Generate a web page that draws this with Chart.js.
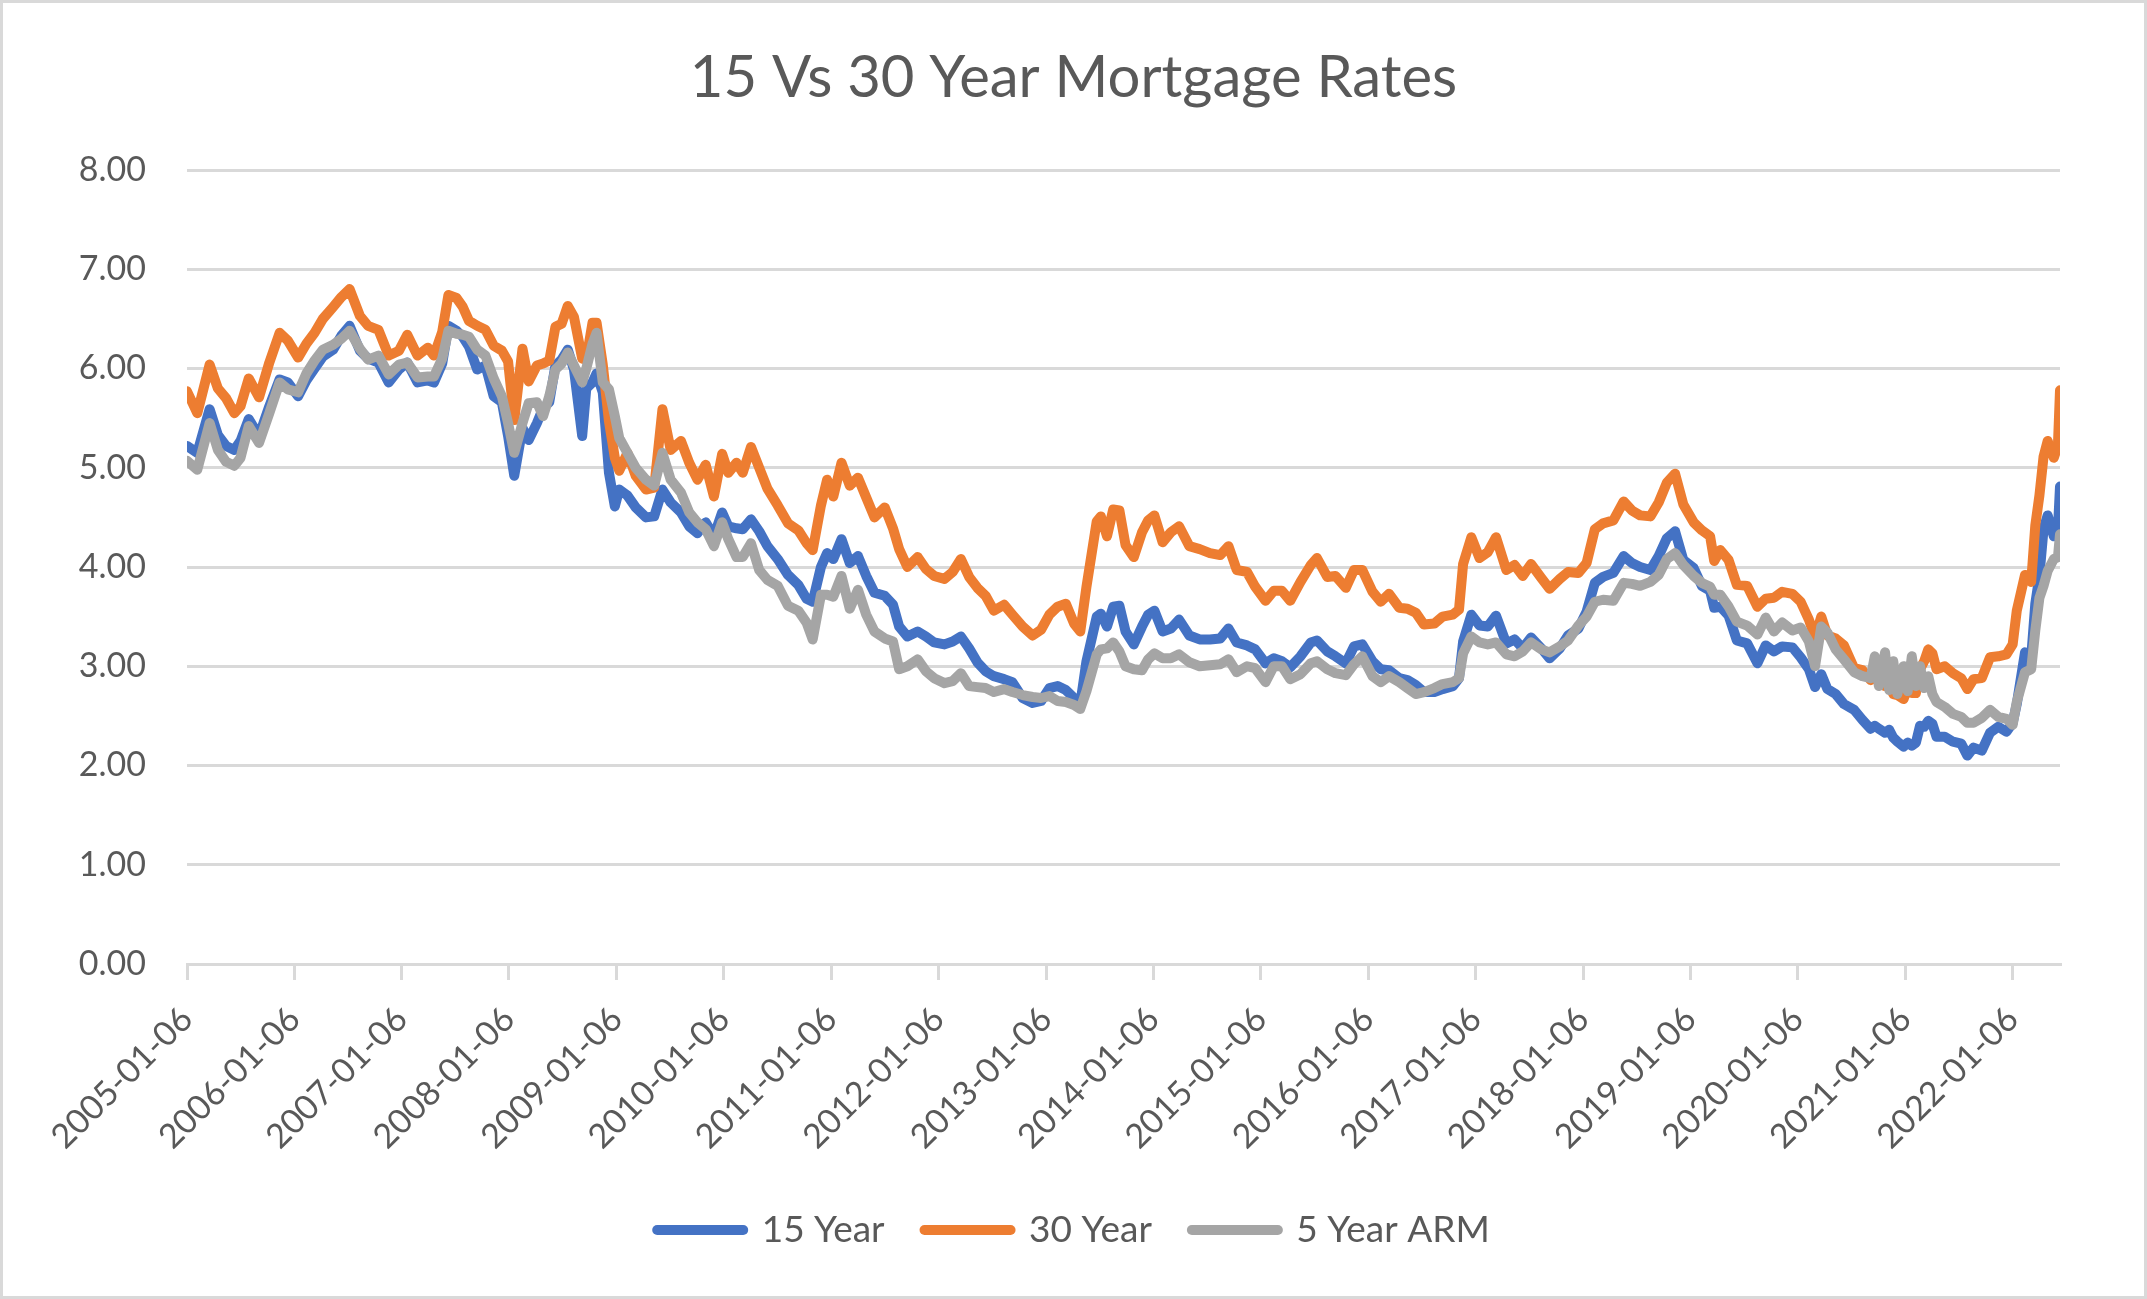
<!DOCTYPE html>
<html>
<head>
<meta charset="utf-8">
<title>15 Vs 30 Year Mortgage Rates</title>
<script src="https://cdn.jsdelivr.net/npm/chart.js@4.4.0/dist/chart.umd.min.js"></script>
<style>
  html, body { margin: 0; padding: 0; background: #fff; }
  #chart { display: block; }
</style>
</head>
<body>
<canvas id="chart" width="2147" height="1299"></canvas>
<script>
const dates = [
  '2005-01-06','2005-02-10','2005-03-24','2005-04-21','2005-05-19','2005-06-16','2005-07-07','2005-08-04','2005-09-08','2005-10-13','2005-11-17','2005-12-15',
  '2006-01-19','2006-02-16','2006-03-16','2006-04-13','2006-05-18','2006-06-15','2006-07-13','2006-08-17','2006-09-14','2006-10-19','2006-11-23','2006-12-28',
  '2007-01-25','2007-03-01','2007-04-05','2007-04-26','2007-05-24','2007-06-14','2007-07-12','2007-08-02','2007-08-23','2007-09-20','2007-10-18','2007-11-15','2007-12-13',
  '2008-01-03','2008-01-24','2008-02-21','2008-03-13','2008-04-10','2008-05-01','2008-05-22','2008-06-12','2008-07-03','2008-07-24','2008-08-14','2008-09-11','2008-09-25','2008-10-16','2008-10-30','2008-11-20','2008-12-11','2008-12-31',
  '2009-01-15','2009-02-12','2009-03-12','2009-04-16','2009-05-14','2009-06-11','2009-07-09','2009-08-13','2009-09-10','2009-10-08','2009-11-05','2009-12-03','2009-12-31',
  '2010-01-21','2010-02-18','2010-03-11','2010-04-08','2010-05-06','2010-06-03','2010-07-08','2010-08-12','2010-09-16','2010-10-14','2010-11-04','2010-12-02','2010-12-23',
  '2011-01-13','2011-02-10','2011-03-10','2011-04-07','2011-05-05','2011-06-02','2011-07-07','2011-08-04','2011-08-25','2011-09-22','2011-10-27','2011-11-24','2011-12-22',
  '2012-01-26','2012-02-23','2012-03-22','2012-04-19','2012-05-17','2012-06-14','2012-07-12','2012-08-16','2012-09-13','2012-10-18','2012-11-21','2012-12-20',
  '2013-01-17','2013-02-14','2013-03-14','2013-04-11','2013-05-02','2013-05-23','2013-06-27','2013-07-11','2013-08-01','2013-08-22','2013-09-12','2013-10-03','2013-10-31','2013-11-28','2013-12-19',
  '2014-01-09','2014-02-06','2014-03-06','2014-04-03','2014-05-08','2014-06-12','2014-07-17','2014-08-21','2014-09-18','2014-10-16','2014-11-20','2014-12-18',
  '2015-01-22','2015-02-19','2015-03-19','2015-04-16','2015-05-21','2015-06-25','2015-07-16','2015-08-20','2015-09-17','2015-10-22','2015-11-19','2015-12-17',
  '2016-01-21','2016-02-18','2016-03-17','2016-04-21','2016-05-19','2016-06-16','2016-07-14','2016-08-18','2016-09-15','2016-10-20','2016-11-10','2016-11-24','2016-12-22',
  '2017-01-19','2017-02-16','2017-03-16','2017-04-20','2017-05-18','2017-06-15','2017-07-13','2017-08-17','2017-09-14','2017-10-19','2017-11-16','2017-12-21',
  '2018-01-18','2018-02-15','2018-03-15','2018-04-19','2018-05-24','2018-06-21','2018-07-19','2018-08-23','2018-09-20','2018-10-18','2018-11-15','2018-12-13',
  '2019-01-17','2019-02-14','2019-03-14','2019-03-28','2019-04-18','2019-05-16','2019-06-13','2019-07-18','2019-08-22','2019-09-19','2019-10-17','2019-11-14','2019-12-19',
  '2020-01-16','2020-02-13','2020-03-05','2020-03-26','2020-04-16','2020-05-14','2020-06-11','2020-07-16','2020-08-13','2020-09-10','2020-09-24','2020-10-08','2020-10-29','2020-11-12','2020-11-26','2020-12-10','2020-12-31',
  '2021-01-14','2021-01-28','2021-02-11','2021-02-25','2021-03-11','2021-03-25','2021-04-08','2021-04-22','2021-05-20','2021-06-17','2021-07-15','2021-08-05','2021-08-26','2021-09-23','2021-10-21','2021-11-18','2021-12-16',
  '2022-01-06','2022-01-20','2022-02-17','2022-03-10','2022-03-24','2022-04-07','2022-04-21','2022-05-05','2022-05-26','2022-06-09','2022-06-16'
];

const rate15 = [
  5.22,5.15,5.59,5.33,5.22,5.18,5.27,5.49,5.32,5.62,5.89,5.86,
  5.72,5.88,6.00,6.12,6.19,6.33,6.43,6.18,6.10,6.06,5.86,5.99,
  6.06,5.86,5.88,5.86,6.05,6.43,6.38,6.32,6.22,5.99,6.03,5.72,5.66,
  5.32,4.92,5.40,5.28,5.45,5.60,5.66,6.03,6.09,6.19,5.99,5.32,5.80,5.86,5.95,5.76,4.95,4.61,
  4.78,4.72,4.60,4.50,4.51,4.78,4.65,4.55,4.41,4.34,4.45,4.31,4.55,
  4.41,4.39,4.38,4.48,4.36,4.21,4.08,3.92,3.82,3.68,3.65,4.00,4.14,
  4.08,4.28,4.04,4.11,3.91,3.74,3.71,3.62,3.40,3.30,3.35,3.30,3.24,
  3.22,3.25,3.30,3.18,3.04,2.95,2.90,2.87,2.84,2.68,2.63,2.65,
  2.78,2.80,2.76,2.68,2.62,3.05,3.50,3.53,3.40,3.60,3.61,3.35,3.22,3.40,3.52,
  3.56,3.35,3.38,3.47,3.31,3.27,3.27,3.28,3.38,3.24,3.21,3.17,
  3.03,3.08,3.05,2.99,3.10,3.24,3.26,3.15,3.10,3.03,3.20,3.22,
  3.05,2.97,2.96,2.88,2.86,2.81,2.74,2.74,2.77,2.80,2.88,3.25,3.52,
  3.41,3.40,3.51,3.23,3.27,3.18,3.29,3.18,3.08,3.18,3.31,3.38,
  3.55,3.84,3.90,3.94,4.11,4.04,4.00,3.97,4.11,4.29,4.36,4.07,
  3.99,3.81,3.76,3.59,3.60,3.51,3.26,3.23,3.03,3.21,3.15,3.20,3.19,
  3.09,2.97,2.79,2.92,2.77,2.72,2.62,2.56,2.46,2.37,2.40,2.37,2.33,2.36,2.28,2.24,2.19,
  2.23,2.20,2.23,2.40,2.39,2.45,2.42,2.29,2.29,2.24,2.22,2.10,2.18,2.15,2.33,2.39,2.34,
  2.43,2.62,3.14,3.09,3.63,3.91,4.38,4.52,4.31,4.38,4.81
];

const rate30 = [
  5.77,5.55,6.04,5.80,5.70,5.55,5.62,5.90,5.71,6.06,6.36,6.28,
  6.11,6.25,6.36,6.50,6.62,6.72,6.80,6.53,6.43,6.39,6.13,6.18,
  6.34,6.13,6.21,6.13,6.37,6.74,6.71,6.62,6.48,6.43,6.39,6.23,6.18,
  6.07,5.48,6.20,5.87,6.03,6.05,6.08,6.42,6.45,6.63,6.52,6.10,6.09,6.46,6.46,6.04,5.47,5.10,
  4.97,5.15,4.92,4.78,4.80,5.59,5.18,5.27,5.05,4.88,5.03,4.71,5.14,
  4.95,5.05,4.95,5.21,5.00,4.79,4.62,4.44,4.37,4.24,4.17,4.62,4.88,
  4.71,5.05,4.82,4.90,4.70,4.50,4.60,4.39,4.18,4.00,4.10,3.98,3.91,
  3.88,3.95,4.08,3.90,3.79,3.71,3.56,3.62,3.52,3.40,3.31,3.37,
  3.52,3.60,3.63,3.43,3.35,3.80,4.46,4.51,4.31,4.58,4.57,4.22,4.10,4.35,4.47,
  4.52,4.25,4.35,4.41,4.21,4.18,4.14,4.12,4.21,3.97,3.95,3.80,
  3.66,3.76,3.76,3.66,3.85,4.02,4.09,3.90,3.91,3.79,3.97,3.97,
  3.75,3.65,3.73,3.59,3.58,3.54,3.42,3.43,3.50,3.52,3.57,4.03,4.30,
  4.09,4.15,4.30,3.97,4.02,3.91,4.03,3.89,3.78,3.88,3.95,3.94,
  4.04,4.38,4.44,4.47,4.66,4.57,4.52,4.51,4.65,4.85,4.94,4.63,
  4.45,4.37,4.31,4.06,4.17,4.07,3.82,3.81,3.60,3.68,3.69,3.75,3.73,
  3.65,3.47,3.29,3.50,3.31,3.28,3.21,2.98,2.96,2.86,2.90,2.87,2.80,2.84,2.72,2.71,2.67,
  2.79,2.73,2.73,2.97,3.05,3.17,3.13,2.97,3.00,2.93,2.88,2.77,2.87,2.88,3.09,3.10,3.12,
  3.22,3.56,3.92,3.85,4.42,4.72,5.11,5.27,5.10,5.23,5.78
];

const arm5 = [
  5.07,4.98,5.45,5.18,5.06,5.02,5.10,5.42,5.25,5.55,5.86,5.79,
  5.76,5.95,6.08,6.19,6.24,6.30,6.38,6.20,6.09,6.13,5.94,6.04,
  6.06,5.91,5.92,5.92,6.10,6.38,6.35,6.34,6.32,6.19,6.13,5.90,5.72,
  5.45,5.15,5.45,5.65,5.66,5.52,5.72,5.99,6.05,6.16,6.03,5.86,6.00,6.25,6.36,5.86,5.79,5.52,
  5.30,5.15,5.00,4.88,4.82,5.15,4.88,4.75,4.55,4.45,4.38,4.21,4.45,
  4.28,4.10,4.10,4.24,3.97,3.87,3.81,3.61,3.56,3.44,3.27,3.72,3.72,
  3.70,3.91,3.58,3.77,3.52,3.35,3.28,3.25,2.97,3.00,3.07,2.95,2.88,
  2.83,2.85,2.93,2.80,2.79,2.78,2.74,2.77,2.74,2.71,2.69,2.68,
  2.70,2.65,2.64,2.61,2.57,2.75,3.12,3.17,3.18,3.24,3.15,3.00,2.97,2.96,3.07,
  3.13,3.08,3.08,3.12,3.04,3.00,3.01,3.02,3.07,2.94,3.00,2.98,
  2.84,3.00,3.00,2.87,2.92,3.03,3.05,2.97,2.93,2.91,3.02,3.10,
  2.90,2.84,2.90,2.84,2.78,2.72,2.74,2.78,2.82,2.84,2.88,3.13,3.30,
  3.24,3.22,3.24,3.12,3.10,3.15,3.24,3.17,3.14,3.20,3.26,3.41,
  3.50,3.65,3.67,3.66,3.84,3.83,3.81,3.85,3.92,4.08,4.14,4.02,
  3.91,3.84,3.80,3.72,3.72,3.60,3.45,3.41,3.32,3.49,3.35,3.44,3.36,
  3.39,3.25,3.00,3.40,3.34,3.17,3.07,2.94,2.90,2.88,3.10,2.80,3.14,2.76,3.05,2.72,3.00,
  2.75,3.10,2.80,3.00,2.78,2.90,2.72,2.64,2.59,2.52,2.49,2.43,2.43,2.48,2.56,2.49,2.47,
  2.41,2.64,2.94,2.97,3.36,3.69,3.81,3.96,4.08,4.10,4.33
];

const tickLabels = [
  '2005-01-06','2006-01-06','2007-01-06','2008-01-06','2009-01-06','2010-01-06',
  '2011-01-06','2012-01-06','2013-01-06','2014-01-06','2015-01-06','2016-01-06',
  '2017-01-06','2018-01-06','2019-01-06','2020-01-06','2021-01-06','2022-01-06'
];

const yTicks = [0, 1, 2, 3, 4, 5, 6, 7, 8];

const seriesNames = ['15 Year', '30 Year', '5 Year ARM'];

const fontFamily = 'Lato, "Open Sans", "Noto Sans", sans-serif';
const textColor = '#595959';
const gridColor = '#D9D9D9';
const lineWidth = 10;

// days since the first survey date, used as the x value
const origin = Date.parse(tickLabels[0] + 'T00:00:00Z');
function dayOf(d) {
  return (Date.parse(d + 'T00:00:00Z') - origin) / 86400000;
}

function points(values) {
  return dates.map((d, i) => ({ x: dayOf(d), y: values[i] }));
}

// white background + thin grey chart border, like the Excel chart area
const chartFrame = {
  id: 'chartFrame',
  beforeDraw(chart) {
    const ctx = chart.ctx;
    ctx.save();
    ctx.fillStyle = '#ffffff';
    ctx.fillRect(0, 0, chart.width, chart.height);
    ctx.restore();
  },
  afterDraw(chart) {
    const ctx = chart.ctx;
    ctx.save();
    ctx.strokeStyle = gridColor;
    ctx.lineWidth = 3;
    ctx.strokeRect(1.5, 1.5, chart.width - 3, chart.height - 3);
    ctx.restore();
  }
};

new Chart(document.getElementById('chart'), {
  type: 'line',
  data: {
    datasets: [
      { label: seriesNames[0], data: points(rate15), borderColor: '#4472C4', backgroundColor: '#4472C4', order: 3 },
      { label: seriesNames[1], data: points(rate30), borderColor: '#ED7D31', backgroundColor: '#ED7D31', order: 2 },
      { label: seriesNames[2], data: points(arm5), borderColor: '#A5A5A5', backgroundColor: '#A5A5A5', order: 1 }
    ]
  },
  options: {
    responsive: false,
    animation: false,
    devicePixelRatio: 1,
    layout: { padding: { left: 0, right: 0, top: 0, bottom: 40.5 } },
    elements: {
      point: { radius: 0, hoverRadius: 0 },
      line: { borderWidth: lineWidth, tension: 0, borderCapStyle: 'round', borderJoinStyle: 'round', fill: false }
    },
    plugins: {
      title: {
        display: true,
        text: '15 Vs 30 Year Mortgage Rates',
        color: textColor,
        font: { family: fontFamily, size: 58, weight: 'normal', lineHeight: 1.2 },
        padding: { top: 43, bottom: 57.4 }
      },
      legend: {
        position: 'bottom',
        labels: {
          usePointStyle: true,
          pointStyle: 'line',
          pointStyleWidth: 86,
          padding: 40,
          color: textColor,
          font: { family: fontFamily, size: 37 },
          sort: (a, b) => a.datasetIndex - b.datasetIndex,
          generateLabels(chart) {
            const items = Chart.defaults.plugins.legend.labels.generateLabels(chart);
            items.forEach(item => {
              item.lineWidth = lineWidth;
              item.lineCap = 'round';
            });
            return items;
          }
        }
      },
      tooltip: { enabled: false }
    },
    scales: {
      x: {
        type: 'linear',
        bounds: 'data',
        min: 0,
        max: dayOf(dates[dates.length - 1]),
        afterBuildTicks(scale) {
          scale.ticks = tickLabels.map(t => ({ value: dayOf(t) }));
        },
        afterFit(scale) { scale.height = 207.5; },
        ticks: {
          autoSkip: false,
          minRotation: 45,
          maxRotation: 45,
          padding: 19,
          color: textColor,
          font: { family: fontFamily, size: 34 },
          callback: (value, index) => tickLabels[index]
        },
        grid: { drawOnChartArea: false, drawTicks: true, tickLength: 16, color: gridColor, lineWidth: 3 },
        border: { display: true, color: gridColor, width: 3 }
      },
      y: {
        min: yTicks[0],
        max: yTicks[yTicks.length - 1],
        afterBuildTicks(scale) {
          scale.ticks = yTicks.map(v => ({ value: v }));
        },
        afterFit(scale) { scale.width = 187; },
        ticks: {
          padding: 41,
          color: textColor,
          font: { family: fontFamily, size: 34 },
          callback: value => Number(value).toFixed(2)
        },
        grid: { color: gridColor, lineWidth: 3, drawTicks: false },
        border: { display: false }
      },
      // empty right-hand axis that only reserves the right margin of the plot
      yRight: {
        position: 'right',
        afterFit(scale) { scale.width = 87; },
        ticks: { display: false },
        grid: { display: false, drawOnChartArea: false },
        border: { display: false }
      }
    }
  },
  plugins: [chartFrame]
});
</script>
</body>
</html>
